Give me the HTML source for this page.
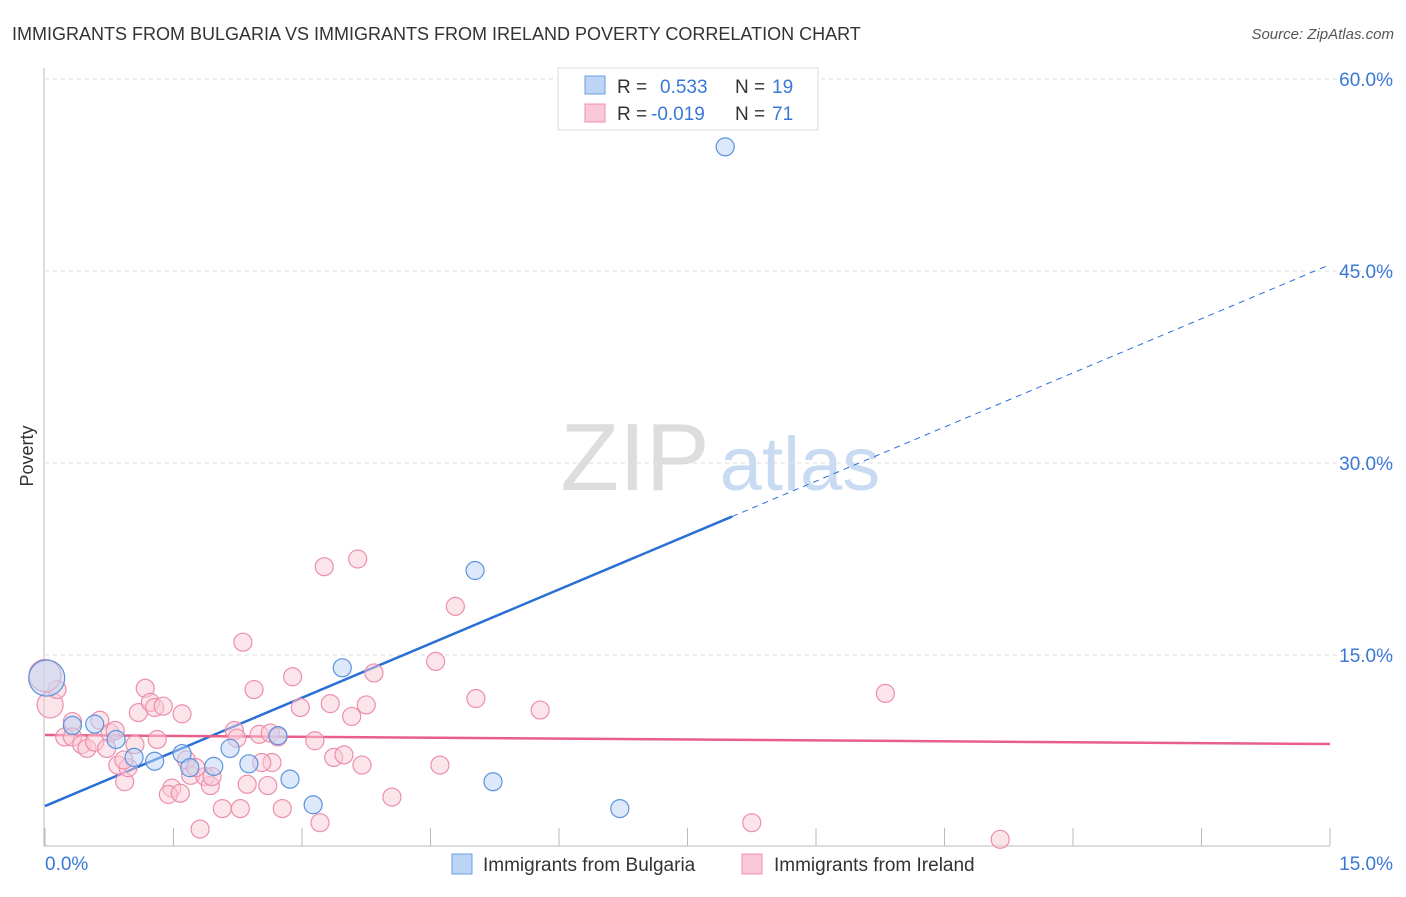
<!DOCTYPE html>
<html><head><meta charset="utf-8"><style>
body{margin:0;background:#fff;font-family:"Liberation Sans",sans-serif}
svg text{font-family:"Liberation Sans",sans-serif}
</style></head><body>
<svg width="1406" height="892">
<text x="12" y="40" font-size="18" fill="#333">IMMIGRANTS FROM BULGARIA VS IMMIGRANTS FROM IRELAND POVERTY CORRELATION CHART</text>
<text x="1394" y="39" font-size="15" fill="#555" font-style="italic" text-anchor="end">Source: ZipAtlas.com</text>
<text x="33" y="456" font-size="18" fill="#333" transform="rotate(-90 33 456)" text-anchor="middle">Poverty</text>
<g>
<text x="635" y="490" font-size="96" fill="#ddd" font-family="Liberation Serif" text-anchor="middle">ZIP</text>
<text x="800" y="490" font-size="76" fill="#c9dbf2" text-anchor="middle">atlas</text>
</g>
<g id="grid"></g>
<g id="axes"></g>
<g id="lines"></g>
<g id="pts"></g>
<g>
<rect x="558" y="68" width="260" height="62" fill="#fff" stroke="#ddd"/>
<rect x="585" y="76" width="20" height="18" fill="#bcd4f5" stroke="#6a9de0"/>
<rect x="585" y="104" width="20" height="18" fill="#fac9d7" stroke="#ec8fab"/>
<text x="617" y="93" font-size="19" fill="#333">R = </text><text x="660" y="93" font-size="19" fill="#3a78d8">0.533</text>
<text x="735" y="93" font-size="19" fill="#333">N = </text><text x="772" y="93" font-size="19" fill="#3a78d8">19</text>
<text x="617" y="120" font-size="19" fill="#333">R = </text><text x="651" y="120" font-size="19" fill="#3a78d8">-0.019</text>
<text x="735" y="120" font-size="19" fill="#333">N = </text><text x="772" y="120" font-size="19" fill="#3a78d8">71</text>
</g>
<g>
<rect x="452" y="854" width="20" height="20" fill="#bcd4f5" stroke="#6a9de0"/>
<text x="483" y="871" font-size="19" fill="#333">Immigrants from Bulgaria</text>
<rect x="742" y="854" width="20" height="20" fill="#fac9d7" stroke="#ec8fab"/>
<text x="774" y="871" font-size="19" fill="#333">Immigrants from Ireland</text>
</g>
</svg>
<script>
const yTicks=[15,30,45,60];
const yTickLabels=["15.0%","30.0%","45.0%","60.0%"];
const xTicks=[0,1.5,3,4.5,6,7.5,9,10.5,12,13.5,15];
const blueX=[0.02,0.32,0.58,0.83,1.04,1.28,1.60,1.69,1.97,2.16,2.38,2.72,2.86,3.13,3.47,5.02,5.23,6.71,7.94];
const blueY=[13.2,9.5,9.6,8.4,7.0,6.7,7.3,6.2,6.3,7.7,6.5,8.7,5.3,3.3,14.0,21.6,5.1,3.0,54.7];
const pinkX=[0.06,0.14,0.32,0.23,0.32,0.43,0.49,0.58,0.64,0.76,0.82,0.72,0.93,0.85,0.97,1.09,1.17,1.23,1.28,1.38,1.31,1.05,1.48,1.44,1.58,1.60,1.65,1.70,1.81,1.87,1.93,1.95,2.07,2.21,2.28,2.31,2.36,2.44,2.50,2.60,2.65,2.63,2.72,2.77,2.89,2.98,3.15,3.21,3.26,3.33,3.37,3.49,3.58,3.65,3.75,3.70,3.84,4.05,4.56,4.61,4.79,5.03,5.78,8.25,9.81,11.15,0.0,2.24,1.76,0.92,2.53];
const pinkY=[11.1,12.3,9.8,8.6,8.6,8.0,7.7,8.2,9.9,8.9,9.1,7.7,5.1,6.4,6.2,10.5,12.4,11.3,10.9,11.0,8.4,8.0,4.6,4.1,4.2,10.4,6.8,5.6,1.4,5.5,4.8,5.5,3.0,9.1,3.0,16.0,4.9,12.3,8.8,4.8,6.6,8.9,8.6,3.0,13.3,10.9,8.3,1.9,21.9,11.2,7.0,7.2,10.2,22.5,11.1,6.4,13.6,3.9,14.5,6.4,18.8,11.6,10.7,1.9,12.0,0.6,13.4,8.5,6.2,6.8,6.6];
const blueTrend=[3.2,2.82];   // intercept, slope
const pinkTrend=[8.75,-0.047];
const blueSolidEnd=8.02;

const NS="http://www.w3.org/2000/svg";
const X=v=>45+v*(1285/15);
const Y=v=>847-v*12.8;
function mk(tag,attrs,parent){const e=document.createElementNS(NS,tag);for(const k in attrs)e.setAttribute(k,attrs[k]);document.getElementById(parent).appendChild(e);return e;}
yTicks.forEach((t,i)=>{
 const l=mk('line',{x1:45,x2:1395,y1:Y(t),y2:Y(t),stroke:'#ddd','stroke-dasharray':'4,4'},'grid');
 
 
 const tx=mk('text',{x:1393,y:Y(t)+7,'font-size':19,fill:'#3a78d8','text-anchor':'end'},'grid');
 tx.textContent=yTickLabels[i];
 
 
});
let a=mk('line',{x1:44,x2:44,y1:68,y2:846,stroke:'#bbb'},'axes');


a=mk('line',{x1:44,x2:1330,y1:846,y2:846,stroke:'#bbb'},'axes');


xTicks.forEach(t=>{const l=mk('line',{x1:X(t),x2:X(t),y1:828,y2:846,stroke:'#bbb'},'axes');
 
 });
let t=mk('text',{x:45,y:870,'font-size':19,fill:'#3a78d8'},'axes');t.textContent='0.0%';


t=mk('text',{x:1393,y:870,'font-size':19,fill:'#3a78d8','text-anchor':'end'},'axes');t.textContent='15.0%';



const pts=(xs,ys,fill,stroke,name)=>xs.forEach((x,i)=>{
 let r=9;
 if(name==='bulgaria-point'&&i===0)r=18;
 if(name==='ireland-point'&&i===0)r=13;
 if(name==='ireland-point'&&i===66)r=16;
 const c=mk('circle',{cx:X(x),cy:Y(ys[i]),r:r,fill:fill,'fill-opacity':0.5,stroke:stroke,'stroke-width':1.2},'pts');
 
 
});
pts(pinkX,pinkY,'#fac9d7','#ec8fab','ireland-point');
pts(blueX,blueY,'#bcd4f5','#5b93dc','bulgaria-point');

const f=(tr,x)=>tr[0]+tr[1]*x;
let ln=mk('line',{x1:X(0),y1:Y(f(blueTrend,0)),x2:X(blueSolidEnd),y2:Y(f(blueTrend,blueSolidEnd)),stroke:'#2a6fd6','stroke-width':2.5},'lines');


ln=mk('line',{x1:X(blueSolidEnd),y1:Y(f(blueTrend,blueSolidEnd)),x2:X(15),y2:Y(f(blueTrend,15)),stroke:'#2a6fd6','stroke-width':1,'stroke-dasharray':'6,5'},'lines');


ln=mk('line',{x1:X(0),y1:Y(f(pinkTrend,0)),x2:X(15),y2:Y(f(pinkTrend,15)),stroke:'#e8608a','stroke-width':2.5},'lines');


</script>
</body></html>
